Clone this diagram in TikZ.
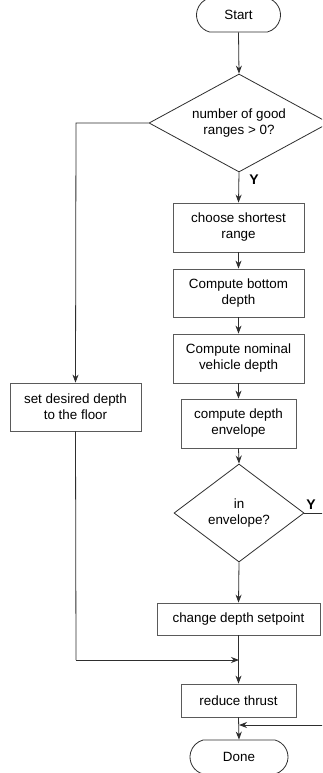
\documentclass[tikz,border=0pt]{standalone}
\usepackage{fontspec}
\setmainfont{Liberation Sans}
\usetikzlibrary{shapes.geometric,shapes.misc,arrows.meta}
\definecolor{linegray}{HTML}{2E2E2E}
\definecolor{boxgray}{HTML}{5A5A5A}
\tikzset{
  proc/.style={draw=boxgray, line width=0.8pt, rectangle, inner sep=0pt, align=center,
               font=\fontsize{13.4}{16}\selectfont},
  term/.style={draw=linegray, line width=0.8pt, rounded rectangle, rounded rectangle arc length=150,
               inner sep=0pt, font=\fontsize{13.4}{16}\selectfont},
  decide/.style={draw=linegray, line width=0.8pt, diamond, inner sep=0pt, align=center,
               font=\fontsize{13.4}{16}\selectfont},
  flow/.style={draw=linegray, line width=0.8pt, -{Stealth[length=8pt,width=6pt]}},
  plain/.style={draw=linegray, line width=0.8pt},
  ylabel/.style={font=\fontsize{14}{16}\selectfont\bfseries, inner sep=0pt}
}
\begin{document}
\begin{tikzpicture}[x=1pt,y=-1pt]
\clip (0,0) rectangle (322,773);
\fill[white] (0,0) rectangle (322,773);

% terminals
\node[term, minimum width=84pt, minimum height=34pt] (start) at (238.5,15) {Start};
\node[term, minimum width=98pt, minimum height=34pt] (done) at (239,757) {Done};

% decisions
\node[decide, minimum width=180pt, minimum height=98pt, aspect=1.84] (d1) at (239,123) {number of good\\ranges > 0?};
\node[decide, minimum width=130pt, minimum height=98pt, aspect=1.33] (d2) at (239,513) {in\\envelope?};

% process boxes
\node[proc, minimum width=131pt, minimum height=49pt] (b1) at (238.5,227.5) {choose shortest\\range};
\node[proc, minimum width=131pt, minimum height=48pt] (b2) at (238.5,293) {Compute bottom\\depth};
\node[proc, minimum width=131pt, minimum height=49pt] (b3) at (238.5,358.5) {Compute nominal\\vehicle depth};
\node[proc, minimum width=115pt, minimum height=49pt] (b4) at (238.5,423.5) {compute depth\\envelope};
\node[proc, minimum width=131pt, minimum height=48pt] (floor) at (75.5,407) {set desired depth\\to the floor};
\node[proc, minimum width=163pt, minimum height=32pt] (b5) at (238.5,619) {change depth setpoint};
\node[proc, minimum width=115pt, minimum height=33pt] (b6) at (238.5,700.5) {reduce thrust};

% helper points
\coordinate (lcorner) at (76,123);
\coordinate (lturn) at (76,660);
\coordinate (merge) at (239,660);
\coordinate (rout) at (340,513);
\coordinate (rin) at (340,725);
\coordinate (join) at (239,725);

% main flow
\draw[flow] (start.south) -- (d1.north);
\draw[flow] (d1.south) -- (b1.north);
\draw[flow] (b1.south) -- (b2.north);
\draw[flow] (b2.south) -- (b3.north);
\draw[flow] (b3.south) -- (b4.north);
\draw[flow] (b4.south) -- (d2.north);
\draw[flow] (d2.south) -- (b5.north);
\draw[flow] (b5.south) -- (b6.north);
\draw[flow] (b6.south) -- (done.north);

% no-range branch
\draw[flow] (d1.west) -- (lcorner) -- (floor.north);
\draw[plain] (floor.south) -- (lturn);
\draw[flow] (lturn) -- (merge);

% in-envelope branch
\draw[plain] (d2.east) -- (rout) -- (rin);
\draw[flow] (rin) -- (join);

% labels
\node[ylabel] (y1) at (254,180) {Y};
\node[ylabel] (y2) at (311,505) {Y};
\end{tikzpicture}
\end{document}
